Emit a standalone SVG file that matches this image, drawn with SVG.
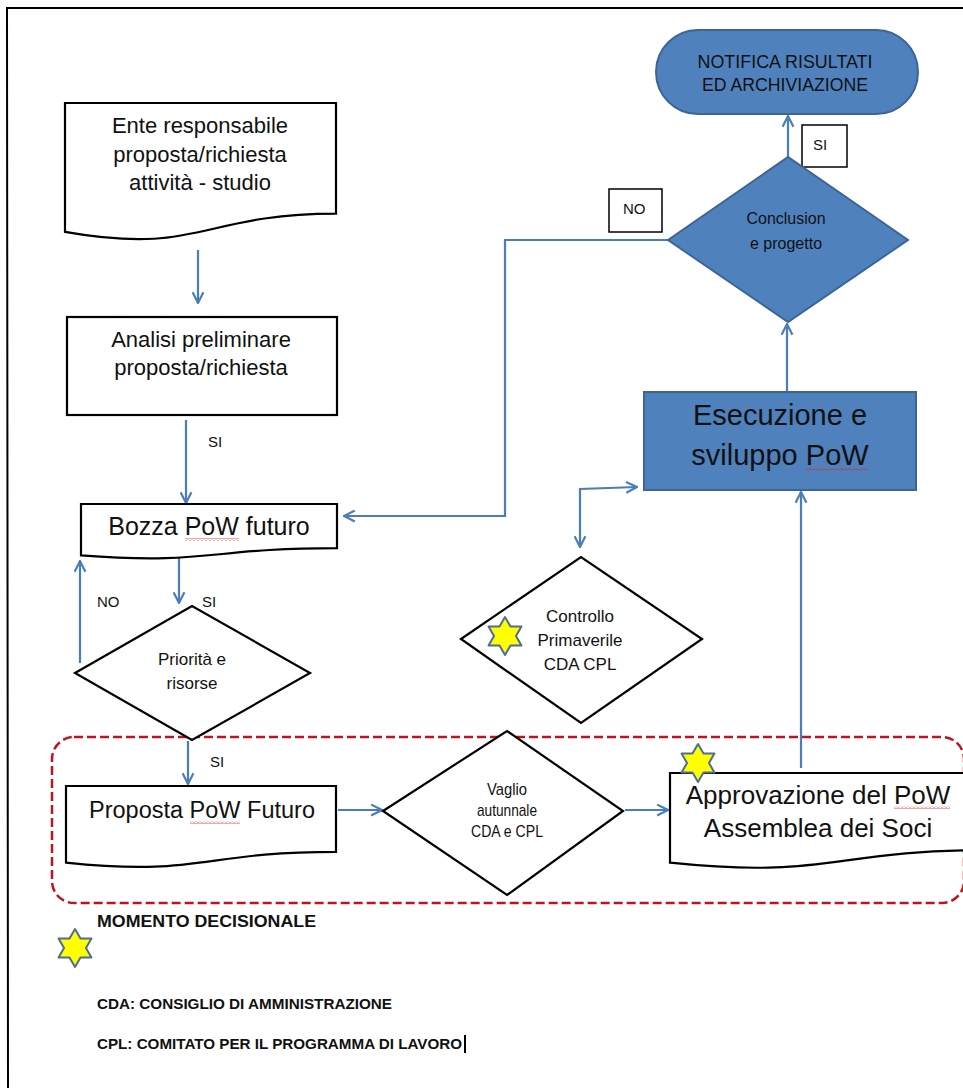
<svg xmlns="http://www.w3.org/2000/svg" width="963" height="1088" viewBox="0 0 963 1088">
<style>
.doc{fill:#fff;stroke:#000;stroke-width:2.2}
.dia{fill:#fff;stroke:#000;stroke-width:2.2}
.blue{fill:#4f81bd;stroke:#3c6595;stroke-width:2}
.t{font-family:"Liberation Sans",Arial,sans-serif;fill:#111;text-anchor:middle}
.lbl{font-family:"Liberation Sans",Arial,sans-serif;fill:#111;font-size:15px}
.leg{font-family:"Liberation Sans",Arial,sans-serif;fill:#111;font-weight:bold}
.con{fill:none;stroke:#4a7ebb;stroke-width:2.2}
.star{fill:#ffff00;stroke:#4f6d96;stroke-width:2;stroke-linejoin:round}
.box{fill:#fff;stroke:#000;stroke-width:1.5}
</style>
<defs>
<marker id="arr" viewBox="0 0 12 12" refX="11" refY="6" markerWidth="13" markerHeight="13" markerUnits="userSpaceOnUse" orient="auto-start-reverse">
<path d="M1,1 L11,6 L1,11" fill="none" stroke="#4a7ebb" stroke-width="2"/>
</marker>
<polygon id="star6" points="0,-19 5.5,-9.5 16.45,-9.5 10.97,0 16.45,9.5 5.5,9.5 0,19 -5.5,9.5 -16.45,9.5 -10.97,0 -16.45,-9.5 -5.5,-9.5"/>
<pattern id="wavy" width="4" height="3" patternUnits="userSpaceOnUse">
<path d="M0,2.5 L2,0.5 L4,2.5" fill="none" stroke="#e02020" stroke-width="0.8"/>
</pattern>
</defs>

<rect width="963" height="1088" fill="#fff"/>
<polyline points="963,8 7,8 8,1088" fill="none" stroke="#000" stroke-width="2"/>

<rect id="decision-area" x="52" y="737" width="912" height="166" rx="22" fill="none" stroke="#c0141c" stroke-width="2.5" stroke-dasharray="9 4"/>

<g id="connectors">
<line class="con" x1="198" y1="250" x2="198" y2="303" marker-end="url(#arr)"/>
<line class="con" x1="186" y1="420" x2="186" y2="503" marker-end="url(#arr)"/>
<line class="con" x1="179" y1="556" x2="179" y2="603" marker-end="url(#arr)"/>
<line class="con" x1="80" y1="663" x2="80" y2="561" marker-end="url(#arr)"/>
<line class="con" x1="188" y1="741" x2="188" y2="784" marker-end="url(#arr)"/>
<line class="con" x1="338" y1="810" x2="382" y2="810" marker-end="url(#arr)"/>
<line class="con" x1="625" y1="810" x2="668" y2="810" marker-end="url(#arr)"/>
<line class="con" x1="801" y1="768" x2="801" y2="492" marker-end="url(#arr)"/>
<line class="con" x1="787" y1="392" x2="787" y2="324" marker-end="url(#arr)"/>
<line class="con" x1="788" y1="157" x2="788" y2="116" marker-end="url(#arr)"/>
<polyline class="con" points="668,240 505,240 505,516 344,516" marker-end="url(#arr)"/>
<polyline class="con" points="580,547 580,489 637,487" marker-start="url(#arr)" marker-end="url(#arr)"/>
<text class="lbl" x="208" y="447">SI</text>
<text class="lbl" x="202" y="607">SI</text>
<text class="lbl" x="97" y="607">NO</text>
<text class="lbl" x="210" y="767">SI</text>
<g id="label-si-top"><rect class="box" x="802" y="125" width="45" height="42"/><text class="lbl" x="813" y="150" font-size="13">SI</text></g>
<g id="label-no-top"><rect class="box" x="609" y="189" width="53" height="43"/><text class="lbl" x="623" y="214" font-size="13">NO</text></g>
</g>

<g id="node-ente">
<path class="doc" d="M65,103 H336 V213.7 C200.5,213.7 200.5,255.8 65,231.9 Z"/>
<text class="t" font-size="22" x="200" y="133">Ente responsabile</text>
<text class="t" font-size="22" x="200" y="162">proposta/richiesta</text>
<text class="t" font-size="22" x="200" y="190">attività - studio</text>
</g>

<g id="node-analisi">
<rect class="doc" x="67" y="317" width="270" height="98"/>
<text class="t" font-size="22" x="201" y="347">Analisi preliminare</text>
<text class="t" font-size="22" x="201" y="375">proposta/richiesta</text>
</g>

<g id="node-bozza">
<path class="doc" d="M81,504 H337 V548.1 C209,548.1 209,564.9 81,555.4 Z"/>
<text class="t" font-size="25" x="209" y="535">Bozza PoW futuro</text>
<rect x="185" y="538" width="54" height="3" fill="url(#wavy)"/>
</g>

<g id="node-priorita">
<polygon class="dia" points="75,673 192,606 310,673 192,740"/>
<text class="t" font-size="17" x="192" y="665">Priorità e</text>
<text class="t" font-size="17" x="192" y="689">risorse</text>
</g>

<g id="node-proposta">
<path class="doc" d="M66,786 H336 V851.8 C201,851.8 201,876.8 66,862.6 Z"/>
<text class="t" font-size="23.5" x="202" y="818">Proposta PoW Futuro</text>
<rect x="190" y="821" width="50" height="3" fill="url(#wavy)"/>
</g>

<g id="node-vaglio">
<polygon class="dia" points="383,811 507,731 623,811 507,895"/>
<text class="t" font-size="17" x="507" y="795" textLength="40" lengthAdjust="spacingAndGlyphs">Vaglio</text>
<text class="t" font-size="17" x="507" y="816" textLength="60" lengthAdjust="spacingAndGlyphs">autunnale</text>
<text class="t" font-size="17" x="507" y="837" textLength="72" lengthAdjust="spacingAndGlyphs">CDA e CPL</text>
</g>

<g id="node-approvazione">
<path class="doc" d="M670,773 H990 V850 C830,850 830,879.3 670,862.7 Z"/>
<text class="t" font-size="26" x="818" y="804">Approvazione del PoW</text>
<text class="t" font-size="26" x="818" y="837">Assemblea dei Soci</text>
<rect x="894" y="806" width="56" height="3" fill="url(#wavy)"/>
<use href="#star6" class="star" transform="translate(698,763)"/>
</g>

<g id="node-controllo">
<polygon class="dia" points="461,639 581,557 702,639 581,723"/>
<text class="t" font-size="17" x="580" y="622">Controllo</text>
<text class="t" font-size="17" x="580" y="646">Primaverile</text>
<text class="t" font-size="17" x="580" y="670">CDA CPL</text>
<use href="#star6" class="star" transform="translate(505,636)"/>
</g>

<g id="node-esecuzione">
<rect class="blue" x="644" y="392" width="272" height="98"/>
<text class="t" font-size="29" x="780" y="425">Esecuzione e</text>
<text class="t" font-size="29" x="780" y="465">sviluppo PoW</text>
<rect x="806" y="468" width="63" height="3" fill="url(#wavy)"/>
</g>

<g id="node-conclusione">
<polygon class="blue" points="668,240 788,157 908,240 788,322"/>
<text class="t" font-size="16" x="786" y="224">Conclusion</text>
<text class="t" font-size="16" x="786" y="249">e progetto</text>
</g>

<g id="node-notifica">
<rect class="blue" x="656" y="30" width="262" height="84" rx="42"/>
<text class="t" font-size="19" x="785" y="68" textLength="175" lengthAdjust="spacingAndGlyphs">NOTIFICA  RISULTATI</text>
<text class="t" font-size="19" x="785" y="91" textLength="166" lengthAdjust="spacingAndGlyphs">ED  ARCHIVIAZIONE</text>
</g>

<g id="legend">
<text class="leg" font-size="17" x="97" y="927" textLength="219" lengthAdjust="spacingAndGlyphs">MOMENTO DECISIONALE</text>
<use href="#star6" class="star" transform="translate(75,948)"/>
<text class="leg" font-size="15" x="97" y="1009" textLength="295" lengthAdjust="spacingAndGlyphs">CDA: CONSIGLIO DI AMMINISTRAZIONE</text>
<text class="leg" font-size="15" x="97" y="1049" textLength="365" lengthAdjust="spacingAndGlyphs">CPL: COMITATO PER IL PROGRAMMA  DI LAVORO</text>
<line x1="465" y1="1035" x2="465" y2="1053" stroke="#000" stroke-width="2"/>
</g>
</svg>
